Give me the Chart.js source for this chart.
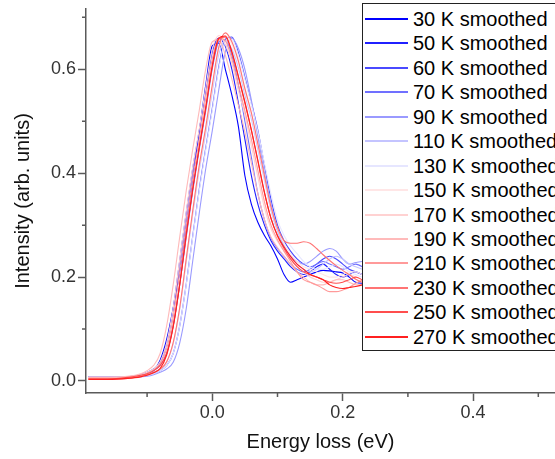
<!DOCTYPE html>
<html>
<head>
<meta charset="utf-8">
<script src="https://cdn.jsdelivr.net/npm/chart.js@4/dist/chart.umd.min.js"></script>
<style>
  html, body { margin: 0; padding: 0; background: #fff; overflow: hidden; width: 555px; height: 459px; }
  #wrap { position: relative; width: 555px; height: 459px; overflow: hidden; }
  canvas { position: absolute; left: 0; top: 0; }
  #legend { position: absolute; left: 362px; top: 3px; width: 300px; height: 346px; border: 1px solid #222; background: #fff;
            font-family: "Liberation Sans", Arial, sans-serif; font-size: 20px; color: #000; }
  .row { position: absolute; left: 0; height: 24px; line-height: 24px; white-space: nowrap; }
  .sw { position: absolute; left: 2px; top: 11px; width: 43px; height: 0; border-top: 2px solid; }
  .lb { position: absolute; left: 50px; top: 0; }
</style>
</head>
<body>
<div id="wrap">
  <canvas id="c" width="555" height="459"></canvas>
  <div id="legend"></div>
</div>
<script>
// ---- data ----
const energy = [-0.19,-0.16,-0.13,-0.11,-0.10,-0.09,-0.08,-0.07,-0.06,-0.05,-0.04,-0.03,-0.02,-0.01,0.00,0.01,0.02,0.03,0.04,0.05,0.06,0.07,0.08,0.09,0.10,0.11,0.12,0.13,0.14,0.15,0.16,0.17,0.18,0.19,0.20,0.21,0.22,0.23,0.24,0.25];

const labels = ["30 K smoothed","50 K smoothed","60 K smoothed","70 K smoothed","90 K smoothed","110 K smoothed","130 K smoothed","150 K smoothed","170 K smoothed","190 K smoothed","210 K smoothed","230 K smoothed","250 K smoothed","270 K smoothed"];

const s30  = [0.008,0.008,0.008,0.010,0.013,0.020,0.040,0.080,0.140,0.210,0.300,0.390,0.480,0.570,0.645,0.650,0.600,0.550,0.490,0.395,0.340,0.305,0.280,0.260,0.235,0.205,0.190,0.195,0.200,0.205,0.210,0.213,0.212,0.210,0.208,0.200,0.190,0.188,0.190,0.190];
const s50  = [0.007,0.007,0.008,0.012,0.017,0.023,0.036,0.073,0.139,0.231,0.323,0.409,0.482,0.561,0.634,0.660,0.644,0.600,0.535,0.465,0.395,0.340,0.300,0.270,0.250,0.235,0.220,0.210,0.205,0.210,0.220,0.225,0.215,0.205,0.200,0.205,0.210,0.205,0.200,0.200];
const s60  = [0.007,0.007,0.007,0.009,0.011,0.014,0.020,0.030,0.053,0.106,0.186,0.279,0.369,0.449,0.525,0.605,0.658,0.662,0.632,0.585,0.535,0.482,0.415,0.350,0.300,0.270,0.250,0.235,0.225,0.220,0.225,0.235,0.240,0.235,0.225,0.215,0.210,0.205,0.200,0.200];
const s70  = [0.007,0.007,0.007,0.011,0.014,0.020,0.030,0.053,0.106,0.185,0.277,0.366,0.446,0.521,0.601,0.653,0.657,0.627,0.570,0.500,0.430,0.360,0.310,0.275,0.255,0.240,0.225,0.215,0.210,0.215,0.225,0.230,0.225,0.220,0.215,0.220,0.225,0.220,0.210,0.205];
const s90  = [0.007,0.007,0.007,0.008,0.009,0.012,0.017,0.023,0.036,0.073,0.139,0.231,0.323,0.409,0.482,0.561,0.634,0.660,0.640,0.600,0.540,0.470,0.400,0.340,0.290,0.260,0.240,0.230,0.225,0.230,0.240,0.250,0.255,0.250,0.235,0.225,0.228,0.230,0.225,0.220];
const s110 = [0.007,0.007,0.007,0.009,0.012,0.016,0.023,0.036,0.072,0.138,0.229,0.321,0.406,0.478,0.557,0.629,0.655,0.639,0.603,0.550,0.504,0.445,0.386,0.328,0.288,0.260,0.240,0.225,0.215,0.210,0.215,0.225,0.235,0.240,0.235,0.225,0.220,0.215,0.210,0.210];
const s130 = [0.007,0.007,0.007,0.009,0.011,0.014,0.020,0.030,0.053,0.106,0.185,0.277,0.366,0.446,0.521,0.601,0.653,0.657,0.627,0.581,0.531,0.479,0.419,0.360,0.310,0.280,0.260,0.245,0.230,0.220,0.215,0.215,0.220,0.225,0.220,0.210,0.205,0.200,0.200,0.200];
const s150 = [0.007,0.007,0.007,0.009,0.012,0.017,0.023,0.037,0.073,0.140,0.233,0.326,0.412,0.485,0.565,0.638,0.665,0.648,0.612,0.559,0.512,0.452,0.392,0.333,0.293,0.265,0.245,0.230,0.220,0.215,0.210,0.205,0.200,0.200,0.205,0.210,0.210,0.205,0.200,0.200];
const s170 = [0.007,0.007,0.008,0.012,0.017,0.023,0.037,0.073,0.140,0.233,0.326,0.412,0.485,0.565,0.638,0.665,0.648,0.612,0.559,0.512,0.452,0.392,0.333,0.293,0.269,0.250,0.235,0.220,0.210,0.200,0.195,0.190,0.190,0.195,0.200,0.205,0.200,0.195,0.190,0.190];
const s190 = [0.007,0.007,0.009,0.014,0.020,0.030,0.053,0.106,0.185,0.277,0.366,0.446,0.521,0.601,0.653,0.657,0.627,0.581,0.531,0.479,0.419,0.360,0.310,0.277,0.257,0.240,0.225,0.210,0.200,0.190,0.185,0.185,0.190,0.195,0.195,0.190,0.185,0.185,0.190,0.190];
const s210 = [0.005,0.005,0.006,0.010,0.015,0.021,0.033,0.062,0.122,0.210,0.300,0.390,0.465,0.545,0.620,0.660,0.655,0.620,0.570,0.520,0.465,0.405,0.345,0.300,0.272,0.250,0.230,0.210,0.195,0.190,0.185,0.178,0.172,0.172,0.175,0.180,0.188,0.194,0.195,0.195];
const s230 = [0.004,0.004,0.005,0.009,0.012,0.017,0.023,0.037,0.074,0.141,0.235,0.328,0.415,0.489,0.570,0.643,0.670,0.653,0.616,0.563,0.516,0.456,0.395,0.335,0.295,0.270,0.265,0.265,0.268,0.265,0.255,0.243,0.232,0.222,0.213,0.205,0.196,0.190,0.188,0.188];
const s250 = [0.004,0.004,0.007,0.011,0.014,0.020,0.030,0.053,0.106,0.186,0.279,0.369,0.449,0.525,0.605,0.658,0.662,0.632,0.585,0.535,0.482,0.422,0.362,0.313,0.279,0.255,0.235,0.220,0.210,0.205,0.200,0.195,0.190,0.188,0.190,0.195,0.200,0.195,0.190,0.190];
const s270 = [0.003,0.003,0.005,0.008,0.011,0.016,0.024,0.050,0.104,0.185,0.282,0.370,0.450,0.527,0.607,0.660,0.664,0.634,0.587,0.537,0.483,0.424,0.363,0.313,0.280,0.258,0.240,0.225,0.215,0.205,0.200,0.195,0.185,0.180,0.178,0.180,0.182,0.185,0.190,0.190];

const series = [s30,s50,s60,s70,s90,s110,s130,s150,s170,s190,s210,s230,s250,s270];
const colors = ["#0000ff","#2020ff","#4a4aff","#7070ff","#9a9aff","#c4c4ff","#e6e6ff","#ffe6e6","#ffd2d2","#ffbaba","#ff9a9a","#ff7474","#ff4e4e","#ff2020"];

const xMajor = [0.0, 0.2, 0.4];
const xMinor = [-0.1, 0.1, 0.3, 0.5];
const yMajor = [0.0, 0.2, 0.4, 0.6];
const yMinor = [0.1, 0.3, 0.5, 0.7];

// ---- chart ----
const FONT = "'Liberation Sans', Arial, sans-serif";
const AXIS = "#5a5a5a";

const minorTicks = {
  id: 'minorTicks',
  afterDraw(chart) {
    const {ctx, scales: {x, y}} = chart;
    ctx.save();
    ctx.strokeStyle = AXIS;
    ctx.lineWidth = 1.5;
    ctx.beginPath();
    xMinor.forEach(v => { const p = x.getPixelForValue(v); ctx.moveTo(p, x.top); ctx.lineTo(p, x.top + 4); });
    yMinor.forEach(v => { const p = y.getPixelForValue(v); ctx.moveTo(y.right - 4, p); ctx.lineTo(y.right, p); });
    ctx.stroke();
    ctx.restore();
  }
};

const datasets = series.map((s, i) => ({
  label: labels[i],
  data: energy.map((e, k) => ({x: e, y: s[k]})),
  borderColor: colors[i],
  borderWidth: 1.1,
  pointRadius: 0,
  fill: false,
  cubicInterpolationMode: 'monotone',
  order: series.length - 1 - i
}));

new Chart(document.getElementById('c'), {
  type: 'line',
  data: { datasets },
  options: {
    responsive: false,
    animation: false,
    events: [],
    layout: { padding: { top: 9, right: 0, bottom: 0, left: 0 } },
    plugins: { legend: { display: false }, tooltip: { enabled: false } },
    scales: {
      x: {
        type: 'linear',
        min: -0.1937, max: 0.5256,
        afterBuildTicks: s => { s.ticks = xMajor.map(v => ({value: v})); },
        afterFit: s => { s.height = 66; s.paddingLeft = 0; s.paddingRight = 0; },
        grid: { drawOnChartArea: false, drawTicks: true, tickLength: 8, tickColor: AXIS, tickWidth: 1.5 },
        border: { display: true, color: AXIS, width: 1.5 },
        ticks: { padding: 1, color: '#333', font: { family: FONT, size: 18 }, callback: v => v.toFixed(1), maxRotation: 0 },
        title: { display: true, text: 'Energy loss (eV)', color: '#111', font: { family: FONT, size: 20 }, padding: { top: 0, bottom: 5 } }
      },
      y: {
        type: 'linear',
        min: -0.0231, max: 0.716,
        afterBuildTicks: s => { s.ticks = yMajor.map(v => ({value: v})); },
        afterFit: s => { s.width = 86; s.paddingTop = 0; s.paddingBottom = 0; },
        grid: { drawOnChartArea: false, drawTicks: true, tickLength: 8, tickColor: AXIS, tickWidth: 1.5 },
        border: { display: true, color: AXIS, width: 1.5 },
        ticks: { padding: 2, color: '#333', font: { family: FONT, size: 18 }, callback: v => v.toFixed(1) },
        title: { display: true, text: 'Intensity (arb. units)', color: '#111', font: { family: FONT, size: 20 }, padding: { top: 11, bottom: 0 } }
      }
    }
  },
  plugins: [minorTicks]
});

// ---- legend (HTML, built from the same arrays) ----
const lg = document.getElementById('legend');
labels.forEach((t, i) => {
  const row = document.createElement('div');
  row.className = 'row';
  row.style.top = (3 + i * 24.44) + 'px';
  const sw = document.createElement('span');
  sw.className = 'sw';
  sw.style.borderTopColor = colors[i];
  const lb = document.createElement('span');
  lb.className = 'lb';
  lb.textContent = t;
  row.appendChild(sw); row.appendChild(lb);
  lg.appendChild(row);
});
</script>
</body>
</html>
